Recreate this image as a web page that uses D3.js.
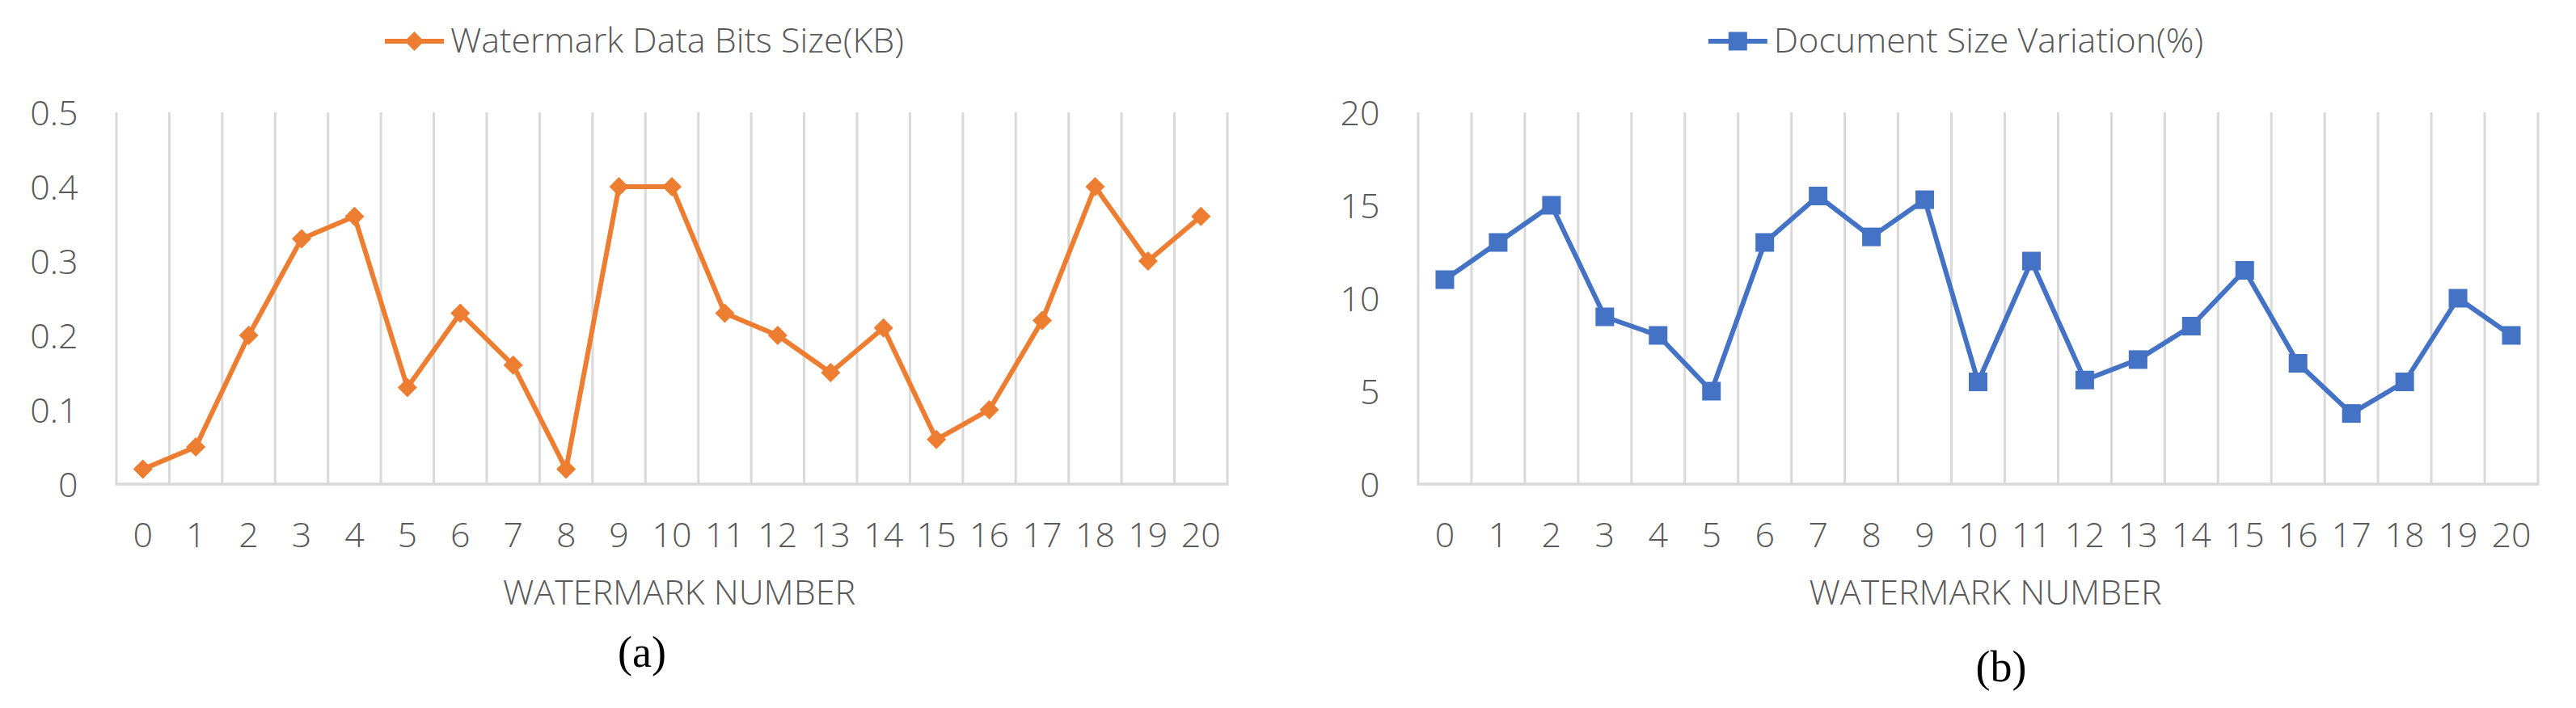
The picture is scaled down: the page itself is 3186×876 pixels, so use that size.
<!DOCTYPE html>
<html><head><meta charset="utf-8">
<script src="https://cdn.jsdelivr.net/npm/d3@7"></script>
<style>
body{margin:0;background:#fff}
svg text{font-family:"Open Sans","Lato",sans-serif;font-weight:300;fill:#595959}
svg text.cap{font-family:"Liberation Serif","Times New Roman",serif;font-weight:400;fill:#000}
</style>
</head><body>
<svg id="c" width="3186" height="876"></svg>
<script>
const categories = ["0","1","2","3","4","5","6","7","8","9","10","11","12","13","14","15","16","17","18","19","20"];
const watermarkBits = [0.02,0.05,0.2,0.33,0.36,0.13,0.23,0.16,0.02,0.4,0.4,0.23,0.2,0.15,0.21,0.06,0.1,0.22,0.4,0.3,0.36];
const sizeVariation = [11,13,15,9,8,5,13,15.5,13.3,15.3,5.5,12,5.6,6.7,8.5,11.5,6.5,3.8,5.5,10,8];
const leftTicks = [0,0.1,0.2,0.3,0.4,0.5];
const rightTicks = [0,5,10,15,20];
const leftLegend = "Watermark Data Bits Size(KB)";
const rightLegend = "Document Size Variation(%)";
const axisTitle = "WATERMARK NUMBER";
const captions = ["(a)","(b)"];

const svg = d3.select("#c");
const FS = 43;

const panels = [
  {x0:144, x1:1518, values:watermarkBits, ticks:leftTicks, max:0.5, color:"#ED7D31", marker:"diamond",
   legend:leftLegend, legendCx:797, caption:captions[0], capCx:794, capY:825},
  {x0:1754, x1:3139, values:sizeVariation, ticks:rightTicks, max:20, color:"#4472C4", marker:"square",
   legend:rightLegend, legendCx:2419, caption:captions[1], capCx:2475, capY:843}
];
const yTop = 139, yBot = 599;

const diamond = "M0,-12L12,0L0,12L-12,0Z";

panels.forEach(p => {
  const g = svg.append("g");
  const x = d3.scaleBand().domain(categories).range([p.x0, p.x1]).padding(0);
  const y = d3.scaleLinear().domain([0, p.max]).range([yBot, yTop]);

  const bounds = categories.map(c => x(c)).concat([p.x1]);
  g.selectAll("line.grid").data(bounds).join("line")
    .attr("x1", d => d).attr("x2", d => d)
    .attr("y1", yTop).attr("y2", yBot)
    .attr("stroke", "#d9d9d9").attr("stroke-width", 3);
  g.append("line").attr("x1", p.x0 - 1.5).attr("x2", p.x1 + 1.5)
    .attr("y1", yBot).attr("y2", yBot)
    .attr("stroke", "#d9d9d9").attr("stroke-width", 3.5);

  const ya = g.append("g").attr("transform", `translate(${p.x0},0)`)
    .call(d3.axisLeft(y).tickValues(p.ticks).tickSize(0).tickPadding(47.5).tickFormat(d3.format("")));
  ya.select(".domain").remove();
  ya.selectAll("text").attr("font-size", FS).attr("dy", "0.36em");
  ya.attr("font-family", null);

  const xa = g.append("g").attr("transform", `translate(0,${yBot})`)
    .call(d3.axisBottom(x).tickSize(0).tickPadding(0));
  xa.select(".domain").remove();
  xa.selectAll("text").attr("font-size", FS).attr("y", 78).attr("dy", 0);
  xa.attr("font-family", null);

  g.append("text").attr("x", (p.x0 + p.x1) / 2 + 9).attr("y", 748)
    .attr("text-anchor", "middle").attr("font-size", FS).text(axisTitle);

  const line = d3.line().x((d, i) => x(categories[i]) + x.bandwidth() / 2).y(d => y(d));
  g.append("path").datum(p.values).attr("d", line)
    .attr("fill", "none").attr("stroke", p.color).attr("stroke-width", 6).attr("stroke-linejoin", "round");

  const pts = g.selectAll("g.pt").data(p.values).join("g")
    .attr("transform", (d, i) => `translate(${x(categories[i]) + x.bandwidth() / 2},${y(d)})`);
  if (p.marker === "diamond") pts.append("path").attr("d", diamond).attr("fill", p.color);
  else pts.append("rect").attr("x", -11.5).attr("y", -11.5).attr("width", 23).attr("height", 23).attr("fill", p.color);

  const lg = g.append("g");
  const lt = lg.append("text").attr("font-size", FS).attr("y", 65).text(p.legend);
  const tw = lt.node().getComputedTextLength();
  const total = 73 + 8 + tw;
  const lx = p.legendCx - total / 2;
  lt.attr("x", lx + 81);
  lg.append("line").attr("x1", lx).attr("x2", lx + 73).attr("y1", 51).attr("y2", 51)
    .attr("stroke", p.color).attr("stroke-width", 6);
  const m = lg.append("g").attr("transform", `translate(${lx + 36.5},51)`);
  if (p.marker === "diamond") m.append("path").attr("d", diamond).attr("fill", p.color);
  else m.append("rect").attr("x", -11.5).attr("y", -11.5).attr("width", 23).attr("height", 23).attr("fill", p.color);

  g.append("text").attr("class", "cap").attr("x", p.capCx).attr("y", p.capY)
    .attr("text-anchor", "middle").attr("font-size", 54).text(p.caption);
});
</script>
</body></html>
